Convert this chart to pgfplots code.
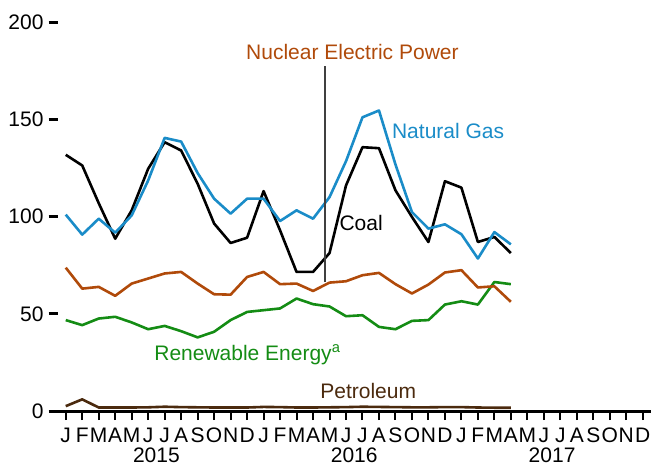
\documentclass[border=0pt]{standalone}
\usepackage{fontspec}
\setmainfont{Liberation Sans}
\usepackage{pgfplots}
\usepackage{pgfplotstable}
\pgfplotsset{compat=1.18}

\definecolor{gasc}{RGB}{26,140,200}
\definecolor{nucc}{RGB}{176,74,10}
\definecolor{renc}{RGB}{20,140,20}
\definecolor{petc}{RGB}{75,42,14}

% monthly values, Jan 2015 .. Apr 2017
\pgfplotstableread{
m  coal  gas   nuc  ren  pet
0  131.9 101.1 73.8 46.8 2.5
1  126.4 90.8  63.0 44.2 6.0
2  107.0 99.0  63.9 47.6 1.8
3  88.7  91.8  59.3 48.5 1.8
4  103.3 100.7 65.6 45.6 1.8
5  124.7 118.7 68.2 42.1 1.9
6  138.4 140.6 70.8 43.8 2.2
7  134.1 138.7 71.6 41.1 2.0
8  117.0 122.5 65.6 37.9 1.9
9  96.5  109.3 60.1 40.8 1.8
10 86.5  101.6 59.9 46.8 1.8
11 89.2  109.3 69.0 51.0 1.8
12 113.2 109.3 71.6 51.9 2.1
13 93.0  97.8  65.3 52.8 2.0
14 71.6  103.3 65.6 57.9 1.8
15 71.6  99.0  61.8 55.0 1.8
16 81.3  110.1 66.1 53.8 1.9
17 116.1 128.6 66.8 48.8 2.0
18 135.8 151.2 69.9 49.3 2.2
19 135.3 154.7 71.1 43.3 2.1
20 113.6 126.9 65.3 42.1 2.0
21 99.9  102.4 60.5 46.4 1.9
22 87.0  93.9  65.1 46.8 1.9
23 118.3 96.1  71.3 54.8 2.0
24 115.0 91.0  72.5 56.5 2.0
25 87.0  78.5  63.6 54.8 1.8
26 89.6  92.1  64.2 66.4 1.7
27 81.3  85.8  56.2 65.3 1.7
}\energy

\begin{document}
\fontsize{10.5}{12.5}\selectfont
\begin{tikzpicture}
\useasboundingbox (-28.75pt,-27.8pt) rectangle (297.25pt,205.5pt);
\begin{axis}[
  at={(0,0)}, anchor=south west,
  scale only axis,
  width=296.75pt, height=194.25pt,
  xmin=-0.5, xmax=35.5, ymin=0, ymax=200,
  axis x line*=bottom, axis y line*=left,
  y axis line style={draw=none},
  x axis line style={line width=1.5pt},
  tick align=outside,
  major tick length=4.5pt,
  ytick={0,50,100,150,200},
  xtick={0,...,35},
  xticklabels={J,F,M,A,M,J,J,A,S,O,N,D,J,F,M,A,M,J,J,A,S,O,N,D,J,F,M,A,M,J,J,A,S,O,N,D},
  ytick style={line width=1.5pt, black},
  xtick style={line width=1pt, black},
  yticklabel style={inner sep=0pt, xshift=-2.3pt},
  xticklabel style={inner sep=0pt, anchor=north, yshift=-3.8pt, text depth=0pt},
  /pgf/number format/assume math mode=true,
  clip=false,
  every axis plot/.append style={line width=1.3pt, line join=round, no markers},
]
\addplot[petc] table[x=m, y=pet] {\energy};
\addplot[renc] table[x=m, y=ren] {\energy};
\addplot[nucc] table[x=m, y=nuc] {\energy};
\addplot[black] table[x=m, y=coal] {\energy};
\addplot[gasc] table[x=m, y=gas] {\energy};

\draw[black!75, line width=0.6pt] (axis cs:15.72,66.4) -- (axis cs:15.72,177.8);

\node[nucc, anchor=base, inner sep=0pt] at (axis cs:17.39,180.9) {Nuclear Electric Power};
\node[gasc, anchor=base west, inner sep=0pt] at (axis cs:19.77,140.1) {Natural Gas};
\node[black, anchor=base, inner sep=0pt] at (axis cs:17.92,92.7) {Coal};
\node[renc, anchor=base west, inner sep=0pt] at (axis cs:5.35,25.8) {Renewable Energy\textsuperscript{a}};
\node[petc, anchor=base west, inner sep=0pt] at (axis cs:15.42,6.5) {Petroleum};

\node[anchor=base, inner sep=0pt, text depth=0pt] at (axis cs:5.5,-26.7) {2015};
\node[anchor=base, inner sep=0pt, text depth=0pt] at (axis cs:17.5,-26.7) {2016};
\node[anchor=base, inner sep=0pt, text depth=0pt] at (axis cs:29.5,-26.7) {2017};
\end{axis}
\end{tikzpicture}
\end{document}
